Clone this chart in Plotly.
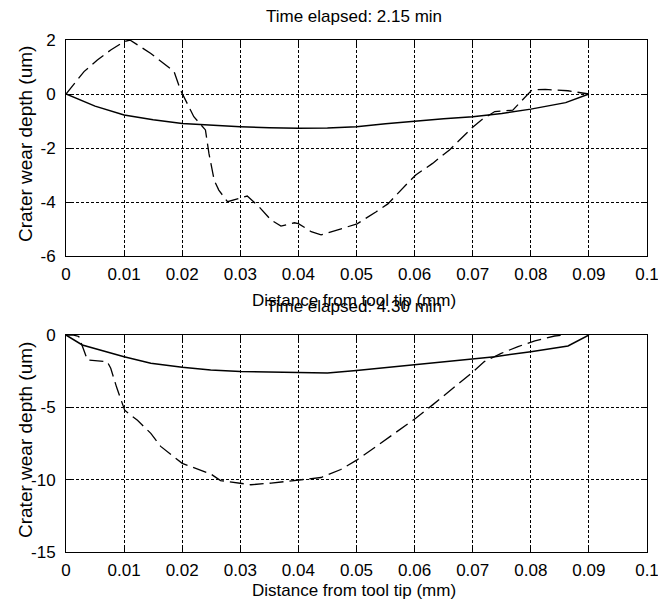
import plotly.graph_objects as go

# ---------------- data ----------------
x_ticks = [0, 0.01, 0.02, 0.03, 0.04, 0.05, 0.06, 0.07, 0.08, 0.09, 0.1]
x_tick_labels = ["0", "0.01", "0.02", "0.03", "0.04", "0.05", "0.06", "0.07", "0.08", "0.09", "0.1"]
y1_ticks = [2, 0, -2, -4, -6]
y1_tick_labels = ["2", "0", "-2", "-4", "-6"]
y2_ticks = [0, -5, -10, -15]
y2_tick_labels = ["0", "-5", "-10", "-15"]

titles = ["Time elapsed: 2.15 min", "Time elapsed: 4.30 min"]
x_label = "Distance from tool tip (mm)"
y_label = "Crater wear depth (um)"

# top panel (2.15 min)
top_solid_x = [0, 0.005, 0.01, 0.015, 0.02, 0.025, 0.03, 0.035, 0.04, 0.045, 0.05, 0.055,
               0.06, 0.065, 0.07, 0.075, 0.08, 0.086, 0.09]
top_solid_y = [0, -0.45, -0.78, -0.95, -1.09, -1.16, -1.21, -1.25, -1.27, -1.26, -1.21, -1.1,
               -1.0, -0.92, -0.84, -0.72, -0.56, -0.32, 0]
top_dash_x = [0, 0.0031, 0.0054, 0.0077, 0.01, 0.011, 0.0146, 0.0186, 0.0197, 0.022, 0.024,
              0.0246, 0.0255, 0.0263, 0.0278, 0.03, 0.0312, 0.0332, 0.0353, 0.037, 0.0393,
              0.04, 0.0422, 0.0439, 0.0501, 0.0534, 0.0554, 0.0588, 0.0602, 0.0631, 0.066,
              0.0701, 0.0715, 0.0738, 0.0769, 0.0802, 0.0825, 0.0864, 0.0881, 0.09]
top_dash_y = [0, 0.83, 1.26, 1.63, 1.94, 2.0, 1.5, 0.83, 0.15, -0.84, -1.33,
              -2.2, -3.19, -3.56, -3.99, -3.86, -3.78, -4.17, -4.67, -4.89, -4.77,
              -4.8, -5.1, -5.22, -4.81, -4.36, -4.07, -3.3, -3.0, -2.57, -2.07,
              -1.21, -0.96, -0.65, -0.6, 0.15, 0.17, 0.12, 0.05, 0]

# bottom panel (4.30 min)
bot_solid_x = [0, 0.0028, 0.01, 0.0146, 0.02, 0.0249, 0.03, 0.04, 0.045, 0.05, 0.06, 0.07,
               0.0738, 0.08, 0.0864, 0.09]
bot_solid_y = [0, -0.69, -1.5, -1.96, -2.23, -2.42, -2.53, -2.6, -2.62, -2.46, -2.07, -1.68,
               -1.5, -1.15, -0.76, 0]
bot_dash_x = [0, 0.0013, 0.0022, 0.0028, 0.0037, 0.0071, 0.0077, 0.0087, 0.0101, 0.0123,
              0.0146, 0.0163, 0.02, 0.0215, 0.0249, 0.0266, 0.03, 0.0318, 0.0353, 0.04,
              0.0439, 0.0473, 0.0501, 0.0534, 0.0562, 0.0585, 0.0602, 0.0631, 0.066,
              0.0701, 0.072, 0.0749, 0.0778, 0.0807, 0.0841, 0.086]
bot_dash_y = [0, 0, -0.1, -0.8, -1.73, -1.84, -2.3, -3.6, -5.2, -5.9,
              -6.8, -7.7, -8.87, -9.1, -9.6, -10.06, -10.24, -10.35, -10.24, -10.0,
              -9.85, -9.3, -8.63, -7.7, -6.9, -6.2, -5.75, -4.83, -3.9,
              -2.53, -1.84, -1.27, -0.8, -0.41, -0.07, 0]

# ---------------- figure ----------------
W, H = 658, 604
ML, MR, MT, MB = 66, 11, 40, 52
PW, PH = W - ML - MR, H - MT - MB


def py(p):  # reference pixel y -> paper y
    return (H - MB - p) / PH


def px(p):  # reference pixel x -> paper x
    return (p - ML) / PW


FAM = "Liberation Sans, Arial, sans-serif"
TICKFONT = dict(family=FAM, size=17, color="black")
TXTFONT = dict(family=FAM, size=17, color="black")

fig = go.Figure()
line_solid = dict(color="black", width=1.5)
line_dash = dict(color="black", width=1.3, dash="14px,6px")

fig.add_trace(go.Scatter(x=top_solid_x, y=top_solid_y, mode="lines", line=line_solid,
                         xaxis="x", yaxis="y", showlegend=False))
fig.add_trace(go.Scatter(x=top_dash_x, y=top_dash_y, mode="lines", line=line_dash,
                         xaxis="x", yaxis="y", showlegend=False))
fig.add_trace(go.Scatter(x=bot_solid_x, y=bot_solid_y, mode="lines", line=line_solid,
                         xaxis="x2", yaxis="y2", showlegend=False))
fig.add_trace(go.Scatter(x=bot_dash_x, y=bot_dash_y, mode="lines", line=line_dash,
                         xaxis="x2", yaxis="y2", showlegend=False))

axis_common = dict(showline=True, linecolor="black", linewidth=1, mirror="ticks",
                   ticks="inside", ticklen=5, tickcolor="black",
                   showgrid=True, gridcolor="black", gridwidth=1, griddash="3px,2px",
                   zeroline=False, tickfont=TICKFONT, automargin=False,
                   ticklabeloverflow="allow")

top_dom = [py(256), 1.0]
bot_dom = [0.0, py(335)]
xr = [0, 0.1000001]

fig.update_layout(
    width=W, height=H,
    margin=dict(l=ML, r=MR, t=MT, b=MB),
    paper_bgcolor="white", plot_bgcolor="white",
    xaxis=dict(domain=[0, 1], anchor="y", range=xr, tickvals=x_ticks,
               ticktext=x_tick_labels, ticklabelstandoff=3, **axis_common),
    yaxis=dict(domain=top_dom, anchor="x", range=[-6, 2], tickvals=y1_ticks,
               ticktext=y1_tick_labels, ticklabelstandoff=6, **axis_common),
    xaxis2=dict(domain=[0, 1], anchor="y2", range=xr, tickvals=x_ticks,
                ticktext=x_tick_labels, ticklabelstandoff=3, **axis_common),
    yaxis2=dict(domain=bot_dom, anchor="x2", range=[-15, 0], tickvals=y2_ticks,
                ticktext=y2_tick_labels, ticklabelstandoff=6, **axis_common),
)

ann = []
# titles
ann.append(dict(text=titles[0], x=px(354), y=py(16), xref="paper", yref="paper",
                xanchor="center", yanchor="middle", showarrow=False, font=TXTFONT))
ann.append(dict(text=titles[1], x=px(354), y=py(306), xref="paper", yref="paper",
                xanchor="center", yanchor="middle", showarrow=False, font=TXTFONT))
# x labels
ann.append(dict(text=x_label, x=px(354), y=py(300), xref="paper", yref="paper",
                xanchor="center", yanchor="middle", showarrow=False, font=TXTFONT))
ann.append(dict(text=x_label, x=px(354), y=py(590), xref="paper", yref="paper",
                xanchor="center", yanchor="middle", showarrow=False, font=TXTFONT))
# y labels
ann.append(dict(text=y_label, x=px(25), y=py(144), xref="paper", yref="paper",
                xanchor="center", yanchor="middle", textangle=-90, showarrow=False,
                font=dict(family=FAM, size=19, color="black")))
ann.append(dict(text=y_label, x=px(25), y=py(440), xref="paper", yref="paper",
                xanchor="center", yanchor="middle", textangle=-90, showarrow=False,
                font=dict(family=FAM, size=19, color="black")))
fig.update_layout(annotations=ann)

# remove the default page margin so the 658x604 figure fills the window exactly
fig.write_html("out.html",
               config={"displayModeBar": False},
               post_script="document.body.style.margin='0';"
                           "document.documentElement.style.overflow='hidden';")
